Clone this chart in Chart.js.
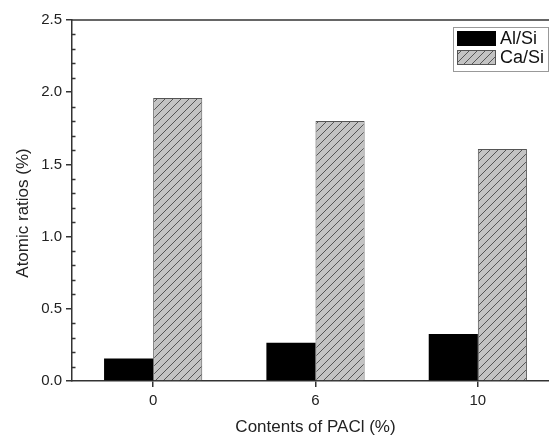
<!DOCTYPE html>
<html>
<head>
<meta charset="utf-8">
<script src="https://cdn.jsdelivr.net/npm/chart.js@4"></script>
<style>
  html, body { margin: 0; padding: 0; background: #fff; overflow: hidden; }
  canvas { display: block; }
</style>
</head>
<body>
<canvas id="chart" width="560" height="436"></canvas>
<script>
// data
const categories = ["0", "6", "10"];
const alSi = [0.155, 0.265, 0.325];
const caSi = [1.96, 1.80, 1.607];
const seriesLabels = ["Al/Si", "Ca/Si"];

const FONT = "Arial, 'Liberation Sans', sans-serif";
const AXIS = "#333";

// grey fill with "/" hatching for Ca/Si
function makeHatch() {
    const c = document.createElement("canvas");
    c.width = 8;
    c.height = 8;
    const g = c.getContext("2d");
    g.fillStyle = "#c3c3c3";
    g.fillRect(0, 0, 8, 8);
    g.strokeStyle = "#555";
    g.lineWidth = 1;
    g.beginPath();
    g.moveTo(0, 8); g.lineTo(8, 0);
    g.moveTo(-1, 1); g.lineTo(1, -1);
    g.moveTo(7, 9); g.lineTo(9, 7);
    g.stroke();
    return g.createPattern(c, "repeat");
}
const hatch = makeHatch();

// minor ticks inside the y axis, top frame line, y title, boxed legend
const decorations = {
    id: "decorations",
    afterDraw(chart) {
        const { ctx, chartArea } = chart;
        const y = chart.scales.y;
        ctx.save();
        ctx.strokeStyle = AXIS;
        ctx.lineWidth = 1.5;
        ctx.beginPath();
        for (let i = 1; i < 25; i++) {
            if (i % 5 === 0) continue;
            const py = Math.round(y.getPixelForValue(i / 10)) + 0.5;
            ctx.moveTo(chartArea.left, py);
            ctx.lineTo(chartArea.left + 3.5, py);
        }
        ctx.stroke();

        ctx.beginPath();
        ctx.moveTo(chartArea.left, chartArea.top);
        ctx.lineTo(chartArea.right, chartArea.top);
        ctx.stroke();

        // y axis title
        ctx.fillStyle = "#222";
        ctx.font = "17px " + FONT;
        ctx.textAlign = "center";
        ctx.textBaseline = "middle";
        ctx.translate(23, 213);
        ctx.rotate(-Math.PI / 2);
        ctx.fillText("Atomic ratios (%)", 0, 0);
        ctx.restore();

        // legend box
        ctx.save();
        const lx = 453, ly = 27, lw = 95, lh = 44;
        ctx.fillStyle = "#fff";
        ctx.fillRect(lx, ly, lw, lh);
        ctx.strokeStyle = "#999";
        ctx.lineWidth = 1;
        ctx.strokeRect(lx + 0.5, ly + 0.5, lw, lh);
        chart.data.datasets.forEach((ds, i) => {
            const sy = ly + 4 + i * 19;
            ctx.fillStyle = ds.backgroundColor;
            ctx.fillRect(lx + 4, sy, 39, 15);
            if (ds.borderWidth) {
                ctx.strokeStyle = ds.borderColor;
                ctx.strokeRect(lx + 4.5, sy + 0.5, 38, 14);
            }
            ctx.fillStyle = "#111";
            ctx.font = "18px " + FONT;
            ctx.textAlign = "left";
            ctx.textBaseline = "middle";
            ctx.fillText(ds.label, lx + 47, sy + 8);
        });
        ctx.restore();
    },
};

new Chart(document.getElementById("chart"), {
    type: "bar",
    data: {
        labels: categories,
        datasets: [
            {
                label: seriesLabels[0],
                data: alSi,
                backgroundColor: "#000",
                borderWidth: 0,
            },
            {
                label: seriesLabels[1],
                data: caSi,
                backgroundColor: hatch,
                borderColor: "#555",
                borderWidth: 1,
            },
        ],
    },
    options: {
        responsive: false,
        animation: false,
        categoryPercentage: 0.605,
        barPercentage: 1.0,
        layout: { padding: { top: 20, right: 1, bottom: 0, left: 0 } },
        plugins: {
            legend: { display: false },
            tooltip: { enabled: false },
        },
        scales: {
            x: {
                grid: {
                    offset: false,
                    drawOnChartArea: false,
                    tickLength: 6,
                    color: AXIS,
                    lineWidth: 1.5,
                },
                border: { color: AXIS, width: 1.5 },
                ticks: {
                    color: "#222",
                    padding: 5,
                    font: { family: FONT, size: 15 },
                },
                title: {
                    display: true,
                    text: "Contents of PACl (%)",
                    color: "#222",
                    padding: { top: 0, bottom: 0 },
                    font: { family: FONT, size: 17, lineHeight: 1.0 },
                },
                afterFit(scale) { scale.height = 55; },
            },
            y: {
                min: 0,
                max: 2.5,
                ticks: {
                    stepSize: 0.5,
                    color: "#222",
                    padding: 4,
                    font: { family: FONT, size: 15 },
                    callback: (v) => Number(v).toFixed(1),
                },
                grid: {
                    drawOnChartArea: false,
                    tickLength: 6,
                    color: AXIS,
                    lineWidth: 1.5,
                },
                border: { color: AXIS, width: 1.5 },
                afterFit(scale) { scale.width = 72; },
            },
        },
    },
    plugins: [decorations],
});
</script>
</body>
</html>
